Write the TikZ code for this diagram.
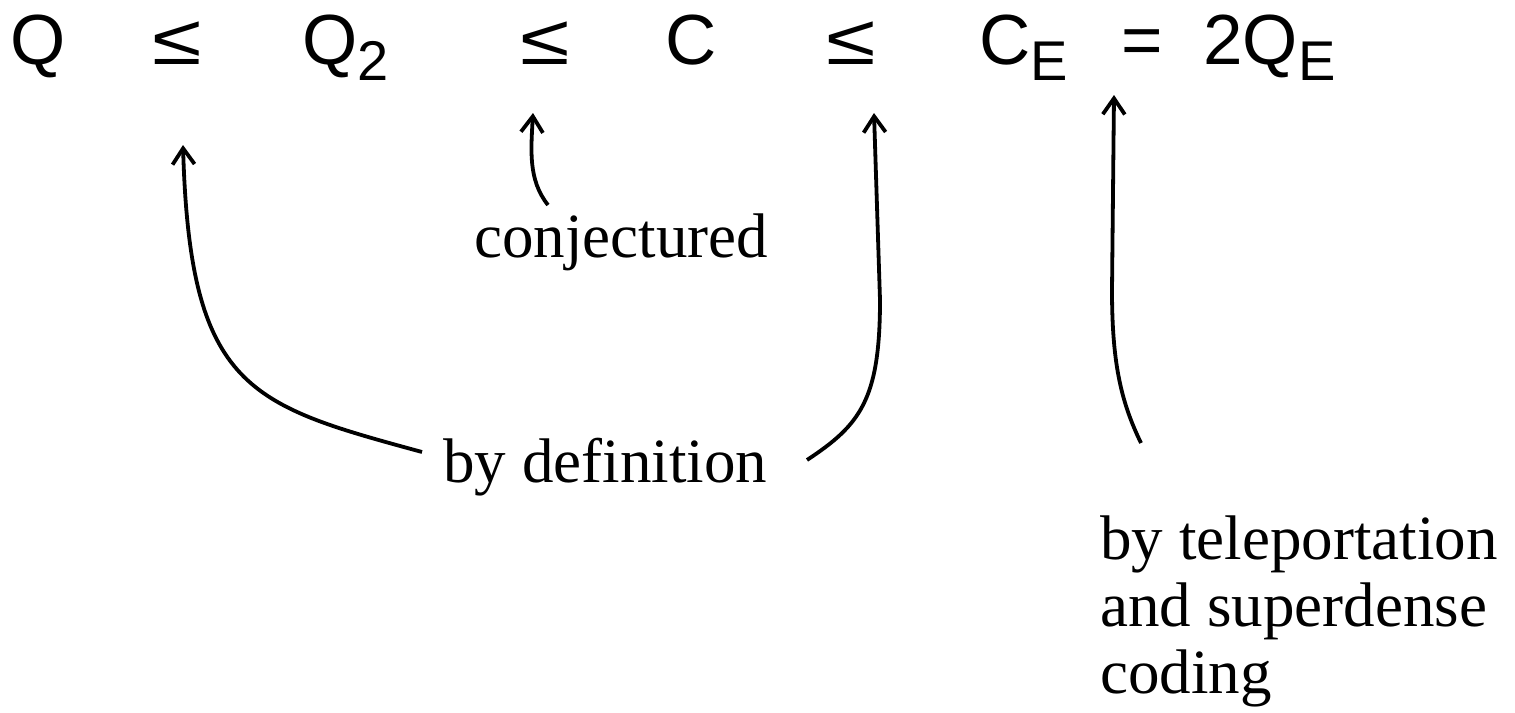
\documentclass[tikz,border=0pt]{standalone}
\usepackage{fontspec}
\setmainfont{Liberation Serif}
\setsansfont{Liberation Sans}
\usetikzlibrary{arrows.meta}
\newcommand{\eqsub}[1]{\raisebox{-8pt}{\fontsize{28}{28}\selectfont #1}}
\newcommand{\wideleq}{\scalebox{1.27}[1]{≤}}

\begin{document}
\begin{tikzpicture}[x=.5pt,y=-.5pt,
    sym/.style={anchor=base west,inner sep=0pt,font=\sffamily\fontsize{35.5}{40}\selectfont},
    note/.style={anchor=base west,inner sep=0pt,align=left,font=\fontsize{31.5}{33.5}\selectfont},
    pointer/.style={line width=1.9pt,-{Straight Barb[length=8pt,width=11pt]}}]
  \useasboundingbox (0,0) rectangle (1515,712);
  % the chain of capacities
  \node[sym] (q)    at (10,64)   {Q};
  \node[sym] (leA)  at (152,64)  {\wideleq};
  \node[sym] (qtwo) at (302,64)  {Q\eqsub{2}};
  \node[sym] (leB)  at (520,64)  {\wideleq};
  \node[sym] (c)    at (665,64)  {C};
  \node[sym] (leC)  at (826,64)  {\wideleq};
  \node[sym] (ce)   at (979,64)  {C\eqsub{E}};
  \node[sym] (eq)   at (1121,64) {=};
  \node[sym] (qe)   at (1203,64) {2Q\eqsub{E}};
  % remarks
  \node[note] (conj)  at (474,257)  {conjectured};
  \node[note] (bydef) at (443,482)  {by definition};
  \node[note] (tele)  at (1100,693) {by teleportation\\and superdense\\coding};
  % ends of the pointers
  \coordinate (defA) at (422,452);
  \coordinate (tipA) at (183,145);
  \coordinate (conjA) at (548,205);
  \coordinate (tipB) at (533,113);
  \coordinate (defB) at (807,460);
  \coordinate (tipC) at (874,113);
  \coordinate (teleA) at (1141,443);
  \coordinate (tipD) at (1114,95);
  \draw[pointer] (defA) .. controls (250,405) and (190,390) .. (tipA);
  \draw[pointer] (conjA) .. controls (528,180) and (531,150) .. (tipB);
  \draw[pointer] (defB) .. controls (860,425) and (880,400) .. (880,300) -- (tipC);
  \draw[pointer] (teleA) .. controls (1120,400) and (1112,360) .. (1112,290) -- (tipD);
\end{tikzpicture}
\end{document}
